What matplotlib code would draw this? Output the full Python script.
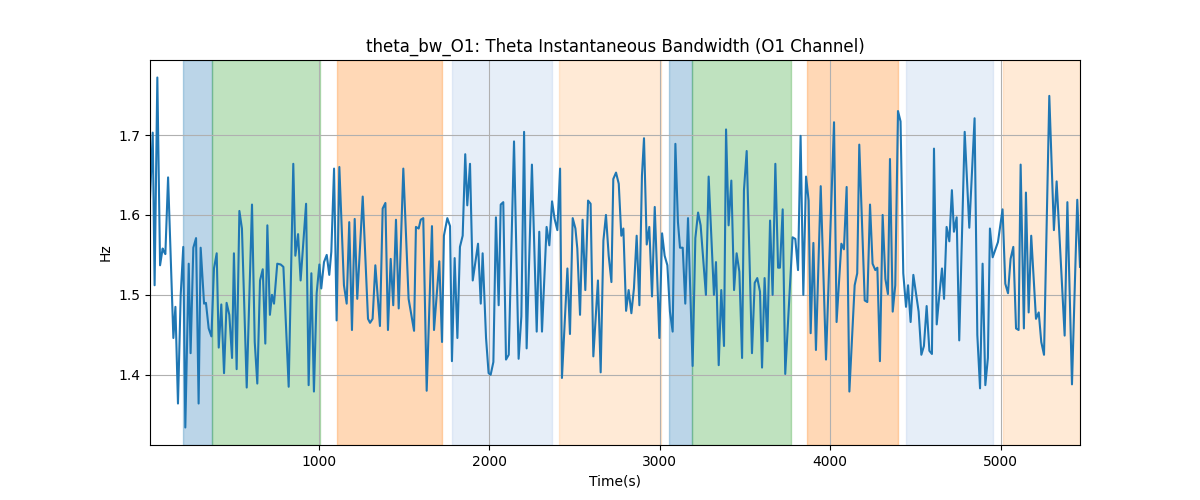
import matplotlib
matplotlib.use("Agg")
import matplotlib.pyplot as plt

time_s = [12, 28, 39, 55, 71, 86, 94, 102, 118, 149, 161, 176, 192, 207, 219, 239, 250, 266, 282, 297,
          309, 329, 340, 356, 372, 387, 403, 415, 430, 446, 461, 477, 493, 504, 520, 536, 551, 579, 610, 626,
          641, 657, 673, 688, 700, 715, 727, 739, 758, 778, 794, 825, 852, 864, 880, 895, 927, 942, 958, 973,
          989, 1005, 1016, 1032, 1048, 1063, 1075, 1091, 1106, 1122, 1149, 1165, 1180, 1196, 1212, 1227, 1259, 1290, 1302, 1317,
          1333, 1360, 1376, 1392, 1407, 1423, 1438, 1454, 1470, 1497, 1528, 1560, 1571, 1587, 1599, 1614, 1634, 1665, 1677, 1708,
          1724, 1735, 1755, 1771, 1782, 1798, 1814, 1829, 1845, 1860, 1872, 1888,
          1904, 1935, 1951, 1962, 1982, 1997, 2009, 2025, 2040, 2056, 2068, 2083, 2099, 2115, 2146, 2173, 2189, 2205, 2220, 2251,
          2279, 2294, 2310, 2337, 2353, 2369, 2384, 2400, 2416, 2427, 2459, 2474, 2490, 2506, 2517, 2533, 2548, 2564, 2580, 2595,
          2611, 2638, 2654, 2670, 2685, 2701, 2717, 2728, 2744, 2760, 2775, 2787, 2803, 2818, 2834, 2849, 2865, 2881, 2896, 2908,
          2924, 2939, 2955, 2971, 2998, 3014, 3029, 3045, 3060, 3076, 3092, 3107, 3119, 3135, 3150, 3166, 3193, 3209, 3225, 3240,
          3271, 3287, 3318, 3330, 3346, 3361, 3377, 3389, 3404, 3420, 3436, 3451, 3467, 3483, 3494, 3510, 3541, 3557, 3572, 3588,
          3600, 3615, 3631, 3647, 3662, 3678, 3694, 3705,
          3721, 3736, 3779, 3795, 3811, 3826, 3842, 3858, 3873, 3885, 3901, 3916, 3944, 3975, 4022, 4037, 4065, 4080, 4096, 4112,
          4143, 4158, 4170, 4202, 4217, 4233, 4248, 4264, 4276, 4291, 4307, 4323, 4338, 4350, 4366, 4381, 4397, 4412, 4428, 4444,
          4456, 4471, 4487, 4502, 4518, 4534, 4549, 4565, 4581, 4596, 4608, 4624, 4639, 4655, 4667, 4682, 4698, 4713, 4725, 4741,
          4756, 4788, 4815, 4846, 4862, 4878, 4893, 4909, 4924, 4936, 4952, 4983, 5010, 5026, 5042, 5057, 5073, 5089, 5104, 5116,
          5135, 5147, 5163, 5178, 5206, 5222, 5237, 5253, 5284, 5311, 5327, 5374, 5390, 5417, 5448, 5464]

theta_bw = [1.620, 1.703, 1.512, 1.772, 1.537, 1.558, 1.554, 1.551, 1.647, 1.446, 1.485, 1.364, 1.500, 1.560, 1.334, 1.539, 1.427, 1.559, 1.571, 1.364,
            1.559, 1.489, 1.490, 1.458, 1.448, 1.533, 1.552, 1.434, 1.488, 1.402, 1.490, 1.475, 1.421, 1.552, 1.407, 1.605, 1.583, 1.384, 1.613, 1.441,
            1.389, 1.518, 1.532, 1.439, 1.587, 1.475, 1.500, 1.489, 1.539, 1.538, 1.535, 1.385, 1.664, 1.549, 1.576, 1.518, 1.614, 1.387, 1.527, 1.379,
            1.502, 1.538, 1.508, 1.541, 1.550, 1.525, 1.554, 1.658, 1.468, 1.660, 1.512, 1.489, 1.591, 1.456, 1.595, 1.495, 1.623, 1.470, 1.465, 1.470,
            1.537, 1.461, 1.608, 1.615, 1.456, 1.545, 1.487, 1.594, 1.483, 1.658, 1.495, 1.455, 1.585, 1.583, 1.594, 1.596, 1.380, 1.586, 1.456, 1.542,
            1.441, 1.574, 1.596, 1.586, 1.417, 1.546, 1.446, 1.560, 1.574, 1.676, 1.612, 1.664,
            1.518, 1.564, 1.489, 1.552, 1.446, 1.402, 1.400, 1.416, 1.597, 1.487, 1.613, 1.616, 1.419, 1.425, 1.692, 1.420, 1.473, 1.704, 1.433, 1.663,
            1.454, 1.579, 1.454, 1.585, 1.562, 1.617, 1.595, 1.581, 1.658, 1.396, 1.533, 1.451, 1.596, 1.583, 1.558, 1.475, 1.594, 1.506, 1.618, 1.614,
            1.423, 1.518, 1.403, 1.568, 1.600, 1.549, 1.516, 1.645, 1.653, 1.639, 1.574, 1.583, 1.480, 1.506, 1.477, 1.508, 1.574, 1.487, 1.649, 1.696,
            1.563, 1.585, 1.498, 1.610, 1.446, 1.577, 1.549, 1.537, 1.479, 1.454, 1.689, 1.591, 1.559, 1.559, 1.489, 1.596, 1.411, 1.571, 1.603, 1.587,
            1.500, 1.648, 1.500, 1.541, 1.412, 1.506, 1.436, 1.707, 1.587, 1.643, 1.506, 1.552, 1.529, 1.421, 1.631, 1.680, 1.427, 1.515, 1.521, 1.504,
            1.409, 1.521, 1.442, 1.593, 1.500, 1.664, 1.534, 1.534,
            1.607, 1.401, 1.572, 1.570, 1.531, 1.699, 1.500, 1.648, 1.618, 1.452, 1.565, 1.431, 1.636, 1.419, 1.716, 1.466, 1.564, 1.557, 1.635, 1.379,
            1.512, 1.527, 1.688, 1.493, 1.491, 1.613, 1.539, 1.531, 1.534, 1.417, 1.600, 1.520, 1.501, 1.670, 1.479, 1.512, 1.730, 1.717, 1.527, 1.485,
            1.512, 1.466, 1.525, 1.503, 1.479, 1.425, 1.436, 1.486, 1.430, 1.426, 1.683, 1.463, 1.499, 1.533, 1.495, 1.585, 1.567, 1.631, 1.579, 1.597,
            1.443, 1.704, 1.584, 1.721, 1.450, 1.383, 1.539, 1.387, 1.421, 1.583, 1.547, 1.566, 1.607, 1.514, 1.502, 1.545, 1.560, 1.458, 1.456, 1.663,
            1.458, 1.628, 1.478, 1.574, 1.470, 1.478, 1.441, 1.425, 1.749, 1.581, 1.642, 1.449, 1.616, 1.388, 1.619, 1.535]

span_starts = [205, 373, 1108, 1780, 2410, 3053, 3189, 3864, 4442, 5013]
span_ends = [373, 1007, 1724, 2369, 3005, 3189, 3770, 4398, 4954, 5464]
span_colors = ['#1f77b4', '#2ca02c', '#ff7f0e', '#aec7e8', '#ffbb78',
               '#1f77b4', '#2ca02c', '#ff7f0e', '#aec7e8', '#ffbb78']

fig, ax = plt.subplots(figsize=(12, 5), dpi=100)
for s, e, c in zip(span_starts, span_ends, span_colors):
    ax.axvspan(s, e, color=c, alpha=0.3)
ax.plot(time_s, theta_bw, color='#1f77b4', linewidth=1.5)
ax.set_xlim(time_s[0], time_s[-1])
ax.grid(True)
ax.set_title("theta_bw_O1: Theta Instantaneous Bandwidth (O1 Channel)")
ax.set_xlabel("Time(s)")
ax.set_ylabel("Hz")
fig.savefig("out.png", dpi=100)
